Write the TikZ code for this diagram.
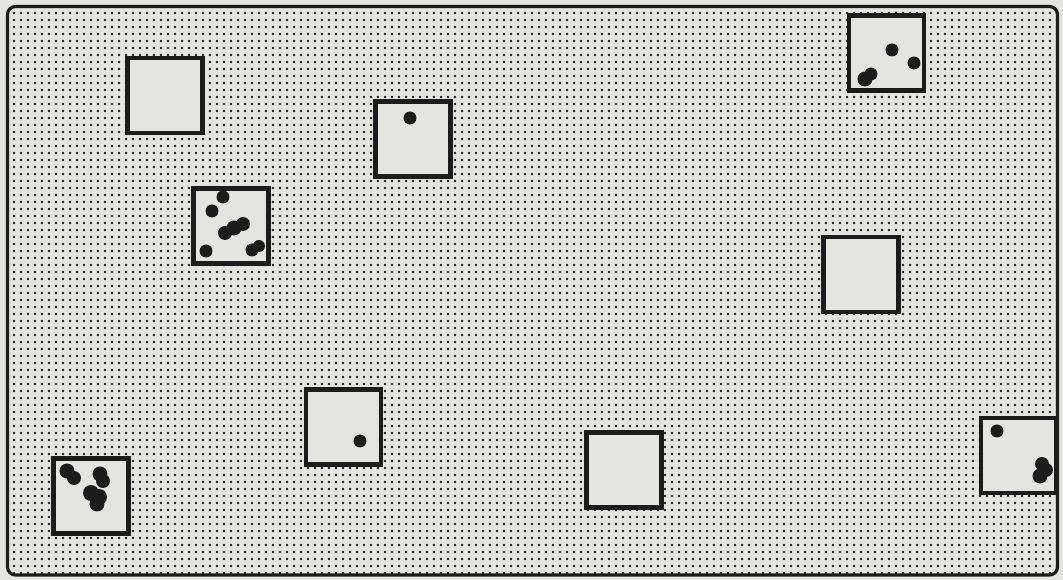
\documentclass[tikz,border=0pt]{standalone}
\usepackage{xcolor}
\usepackage{tikz}
\usetikzlibrary{patterns.meta}
\definecolor{scanGray}{RGB}{228,228,225}
\definecolor{inkBlack}{RGB}{28,28,28}

\begin{document}
\begin{tikzpicture}[x=0.1mm, y=-0.1mm,
    field/.style={draw=inkBlack, line width=0.9pt, rounded corners=0.8mm,
        preaction={fill=scanGray},
        pattern={Dots[radius=0.13mm, distance=0.7mm]}, pattern color=inkBlack},
    plot/.style={rectangle, draw=inkBlack, line width=1.35pt, fill=scanGray,
        minimum size=7.5mm, inner sep=0pt},
    seed/.style={fill=inkBlack}
]
\fill[scanGray] (0,0) rectangle (1063,580);
\useasboundingbox (0,0) rectangle (1063,580);
\draw[field] (7.5,6.5) rectangle (1057.5,575);

\node[plot] (plotA) at (165,95.5) {};
\node[plot] (plotB) at (413,139) {};
\node[plot] (plotC) at (886.5,53) {};
\node[plot] (plotD) at (231,226) {};
\node[plot] (plotE) at (861,274.5) {};
\node[plot] (plotF) at (343.5,427) {};
\node[plot] (plotG) at (624,470) {};
\node[plot] (plotH) at (91,496) {};
\node[plot] (plotI) at (1018.5,455.5) {};

\foreach \px/\py/\r in {410/118/6.5,
    892/50/6.5, 914/63/6.5, 865/79/7.5, 871/74/6.5,
    223/197/6.5, 212/211/6.5, 225/233/7, 234/228/7.5, 243/224/7, 206/251/6.5,
    252/250/6.5, 259/246/6,
    360/441/6.5,
    67/471/7.5, 74/478/7, 100/474/7.5, 103/481/7, 91/493/8, 99/497/8, 97/504/7.5,
    997/431/6.5, 1042/464/7, 1046/470/7, 1040/476/7.5}
  \fill[seed] (\px,\py) circle[radius=\r*0.1mm];
\end{tikzpicture}
\end{document}
